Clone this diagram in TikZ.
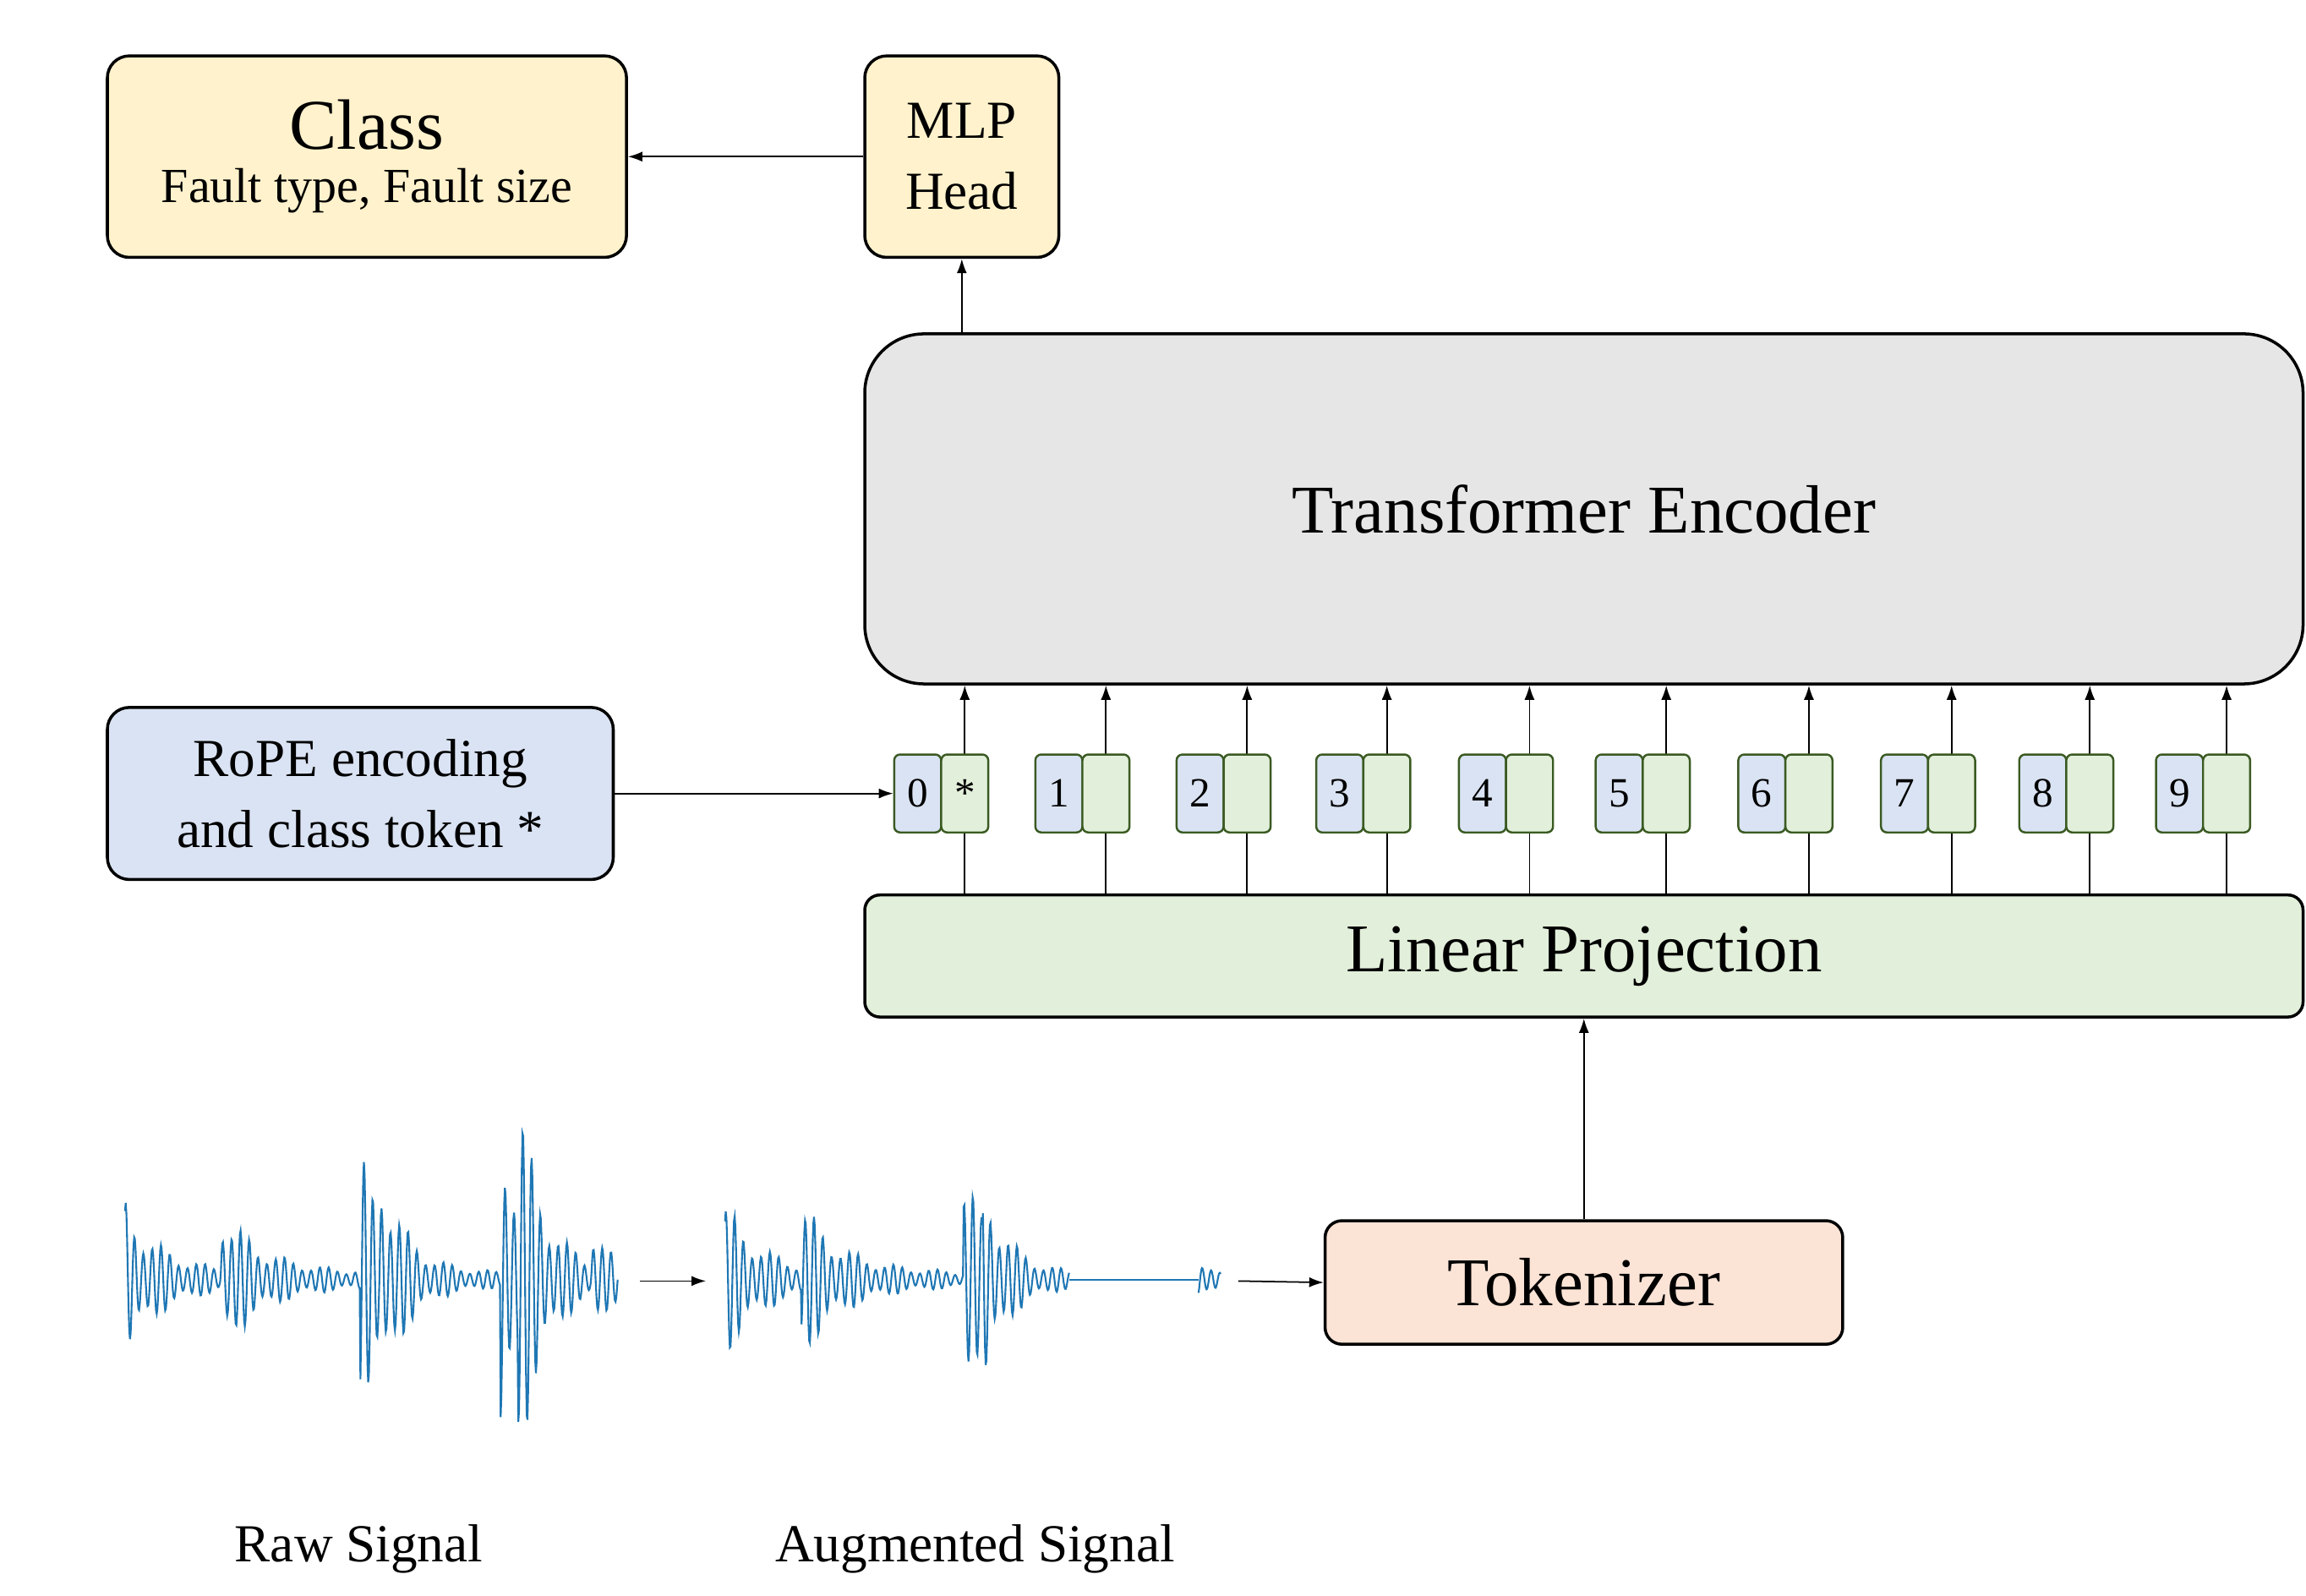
\documentclass[tikz,border=0pt]{standalone}
\usepackage{fontspec}
\setmainfont{Liberation Serif}
\usetikzlibrary{arrows.meta}
\definecolor{sig}{HTML}{1F77B4}
\definecolor{yel}{HTML}{FFF2CC}
\definecolor{gry}{HTML}{E6E6E6}
\definecolor{blu}{HTML}{DAE3F3}
\definecolor{grn}{HTML}{E2EFDA}
\definecolor{org}{HTML}{FBE3D6}
\definecolor{tokb}{HTML}{3A5A22}
\begin{document}
\begin{tikzpicture}[x=0.0174cm,y=-0.0174cm,
  box/.style={draw=black,line width=1pt,rounded corners=0.26cm,align=center,inner sep=0pt},
  tok/.style={draw=tokb,line width=0.7pt,rounded corners=0.07cm,minimum width=32*0.0174cm,minimum height=53*0.0174cm,inner sep=0pt,font=\fontsize{14}{16}\selectfont},
  arr/.style={-{Latex[length=0.17cm,width=0.12cm]},line width=0.5pt},
  declare function={
    bu(\x,\c,\a,\t)=\a*exp(-min(max(\x-\c,0)/\t,20))*(\x>=\c);
    os(\x)=sin(10*mod(\x*6,36))*(0.75+0.25*cos(10*mod(\x*1.3,36)));
  }]
\useasboundingbox (0,0) rectangle (1568,1085);
% boxes
\node[box,fill=yel,minimum width=353*0.0174cm,minimum height=137*0.0174cm] (class) at (249.5,106.5)
  {{\fontsize{24}{28}\selectfont Class}\\[6pt]{\fontsize{16.5}{20}\selectfont Fault type, Fault size}};
\node[box,fill=yel,minimum width=132*0.0174cm,minimum height=137*0.0174cm,font=\fontsize{18}{24}\selectfont] (mlp) at (654,106.5) {MLP\\Head};
\node[box,fill=gry,rounded corners=0.7cm,minimum width=978*0.0174cm,minimum height=238*0.0174cm,font=\fontsize{23}{28}\selectfont] (te) at (1077,346) {Transformer Encoder};
\node[box,fill=blu,minimum width=344*0.0174cm,minimum height=117*0.0174cm,font=\fontsize{18}{24}\selectfont] (rope) at (245,539.5) {RoPE encoding\\and class token *};
\node[box,fill=grn,rounded corners=0.18cm,minimum width=978*0.0174cm,minimum height=83*0.0174cm,font=\fontsize{23}{28}\selectfont] (lp) at (1077,650) {Linear Projection};
\node[box,fill=org,rounded corners=0.2cm,minimum width=352*0.0174cm,minimum height=84*0.0174cm,font=\fontsize{23}{28}\selectfont] (tk) at (1077,872) {Tokenizer};
% tokens
\foreach \i/\L in {0/656,1/752,2/848,3/943,4/1040,5/1133,6/1230,7/1327,8/1421,9/1514}{
  \draw[arr] (lp.north -| \L,0) -- (te.south -| \L,0);
  \node[tok,fill=blu] (b\i) at (\L-32,539.5) {\i};
  \node[tok,fill=grn] (g\i) at (\L,539.5) {\ifnum\i=0 *\fi};
}
\draw[arr] (rope.east) -- (b0.west);
\draw[arr] (te.north -| mlp) -- (mlp.south);
\draw[arr] (mlp.west) -- (class.east);
\draw[arr] (tk.north) -- (lp.south);
% signals
\draw[sig,line width=0.6pt] plot[domain=85:420,samples=700] (\x,{870-(5+bu(\x,85,50,25)+bu(\x,150,45,28)+bu(\x,245,85,20)+bu(\x,258,40,15)+bu(\x,340,135,16)+bu(\x,352,70,20)+bu(\x,402,30,12))*os(\x)});
\draw[sig,line width=0.6pt] plot[domain=493:727,samples=500] (\x,{870-(5+bu(\x,493,50,25)+bu(\x,545,45,28)+bu(\x,655,78,18)+bu(\x,668,40,14))*os(\x)});
\draw[sig,line width=0.6pt] (727,870) -- (815,870);
\draw[sig,line width=0.6pt] plot[domain=815:830,samples=40] (\x,{870-bu(\x,815,20,10)*os(\x)});
\coordinate (r1) at (435,871); \coordinate (r2) at (480,871); \coordinate (a1) at (842,871);
\draw[arr] (r1) -- (r2);
\draw[arr] (a1) -- (tk.west);
\node[font=\fontsize{18}{22}\selectfont] (rs) at (244,1053) {Raw Signal};
\node[font=\fontsize{18}{22}\selectfont] (as) at (663,1053) {Augmented Signal};
\end{tikzpicture}
\end{document}
